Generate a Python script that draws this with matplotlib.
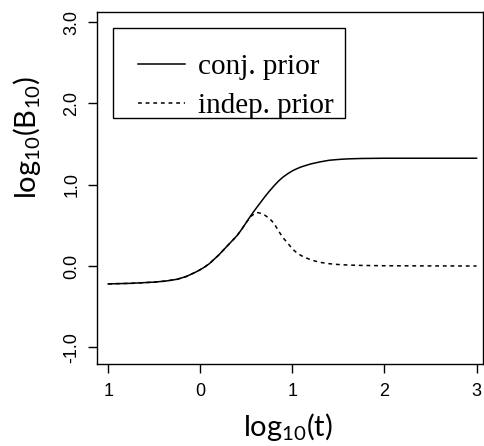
import matplotlib.pyplot as plt
from matplotlib.patches import Rectangle

# log10(t) grid
log_t = [-1.0, -0.75, -0.5, -0.375, -0.25, -0.15, -0.05, 0.0, 0.05, 0.1, 0.2, 0.3, 0.4, 0.45,
         0.5, 0.55, 0.6, 0.625, 0.65, 0.7, 0.75, 0.8, 0.85, 0.9, 0.95, 1.0, 1.05, 1.1,
         1.2, 1.3, 1.4, 1.5, 1.6, 1.75, 2.0, 2.5, 3.0]

conj_prior = [-0.22, -0.213, -0.198, -0.185, -0.163, -0.128, -0.075, -0.045, -0.01, 0.03, 0.135, 0.255, 0.375, 0.452,
              0.537, 0.622, 0.70, 0.738, 0.775, 0.85, 0.92, 0.985, 1.045, 1.095, 1.135, 1.17, 1.197, 1.22,
              1.255, 1.28, 1.30, 1.31, 1.317, 1.322, 1.325, 1.325, 1.325]

indep_prior = [-0.22, -0.213, -0.198, -0.185, -0.163, -0.128, -0.075, -0.045, -0.01, 0.03, 0.135, 0.255, 0.375, 0.452,
               0.537, 0.612, 0.652, 0.656, 0.65, 0.625, 0.585, 0.525, 0.43, 0.345, 0.28, 0.21, 0.16, 0.125,
               0.075, 0.045, 0.028, 0.018, 0.012, 0.007, 0.003, 0.001, 0.0]

x_ticks = [-1, 0, 1, 2, 3]
x_ticklabels = ["1", "0", "1", "2", "3"]
y_ticks = [-1, 0, 1, 2, 3]
y_ticklabels = ["-1.0", "0.0", "1.0", "2.0", "3.0"]

W, H = 484, 446
fig = plt.figure(figsize=(W / 100, H / 100), dpi=100)

# axes box in pixels: left 97, top 12, right 483, bottom 364
ax = fig.add_axes([97 / W, (H - 364) / H, (483 - 97) / W, (364 - 12) / H])

ax.plot(log_t, conj_prior, color="black", lw=1.1, label="conj. prior")
ax.plot(log_t, indep_prior, color="black", lw=1.1, linestyle=(0, (2.5, 2.5)), label="indep. prior")

ax.set_xlim(-1.122, 3.07)
ax.set_ylim(-1.205, 3.123)

ax.set_xticks(x_ticks)
ax.set_xticklabels(x_ticklabels, fontname="Liberation Sans", fontsize=13)
ax.set_yticks(y_ticks)
ax.set_yticklabels(y_ticklabels, fontname="Liberation Sans", fontsize=13,
                   rotation=90, va="center")
ax.tick_params(length=6.5, width=1)
ax.tick_params(axis="x", pad=7.5)
ax.tick_params(axis="y", pad=5.5)

for s in ax.spines.values():
    s.set_linewidth(1)

plt.rcParams["mathtext.default"] = "regular"
fig.text(288 / W, 1 - 427 / H, "log$_{10}$(t)", fontname="Lato", fontsize=21,
         ha="center", va="center")
fig.text(27 / W, 1 - 138 / H, "log$_{10}$(B$_{10}$)", fontname="Lato", fontsize=21,
         ha="center", va="center", rotation=90)

# legend with a plain rectangular frame
leg = ax.legend(loc="upper left", bbox_to_anchor=(115 / W, 1 - 30.5 / H),
                bbox_transform=fig.transFigure, frameon=False,
                prop={"family": "Liberation Serif", "size": 21},
                handlelength=1.6, handletextpad=0.45, labelspacing=0.42,
                borderpad=0.3)
ax.add_patch(Rectangle((113 / W, 1 - 118.5 / H), (345 - 113) / W, (118.5 - 28.5) / H,
                       transform=fig.transFigure, fill=False, edgecolor="black",
                       lw=1, clip_on=False))

fig.savefig("out.png", dpi=100)
